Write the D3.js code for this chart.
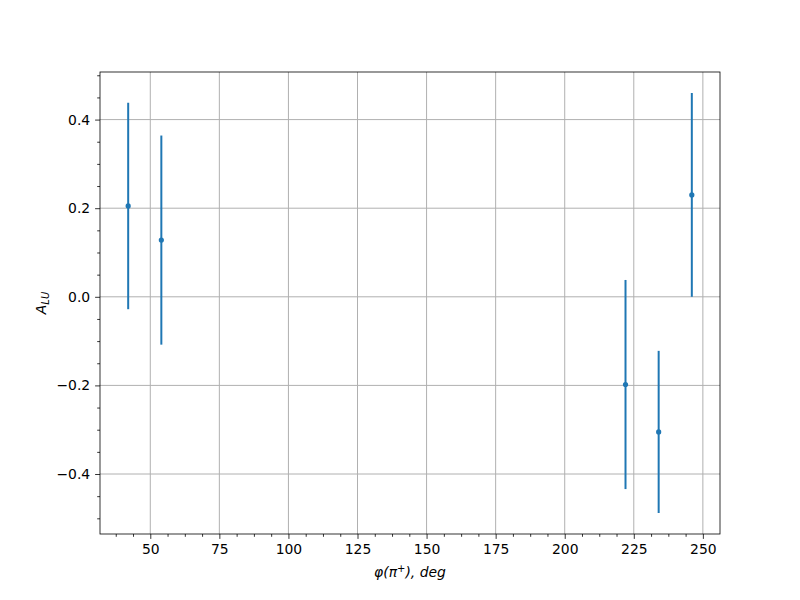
<!DOCTYPE html>
<html><head><meta charset="utf-8">
<script src="https://cdn.jsdelivr.net/npm/d3@7"></script>
<style>body{margin:0;background:#fff}svg{display:block}</style>
</head><body>
<svg id="c" width="800" height="600"></svg>
<script>
const phi = [42, 54, 222, 234, 246];
const alu = [0.205, 0.128, -0.198, -0.305, 0.230];
const err = [0.233, 0.236, 0.236, 0.183, 0.230];
const xTicks = [50, 75, 100, 125, 150, 175, 200, 225, 250];
const yTicks = [-0.4, -0.2, 0.0, 0.2, 0.4];

const svg = d3.select("#c");
const L = 100, R = 720, T = 72, B = 534;
const lo = d3.min(alu.map((v,i)=>v-err[i])), hi = d3.max(alu.map((v,i)=>v+err[i]));
const xr = d3.max(phi)-d3.min(phi), yr = hi-lo;
const x = d3.scaleLinear().domain([d3.min(phi)-0.05*xr, d3.max(phi)+0.05*xr]).range([L, R]);
const y = d3.scaleLinear().domain([lo-0.05*yr, hi+0.05*yr]).range([B, T]);
const font = "DejaVu Sans";
const col = "#1f77b4";

// grid
const g = svg.append("g");
xTicks.forEach(t => g.append("line").attr("x1", x(t)).attr("x2", x(t)).attr("y1", T).attr("y2", B)
  .attr("stroke", "#b0b0b0").attr("stroke-width", 1));
yTicks.forEach(t => g.append("line").attr("x1", L).attr("x2", R).attr("y1", y(t)).attr("y2", y(t))
  .attr("stroke", "#b0b0b0").attr("stroke-width", 1));

// minor ticks
const xMinor = d3.range(31.25, 256, 6.25).filter(v => v >= x.domain()[0] && v <= x.domain()[1] && Math.abs(v/25 - Math.round(v/25)) > 1e-6);
const yMinor = d3.range(-0.5, 0.51, 0.05).filter(v => v >= y.domain()[0] && v <= y.domain()[1] && Math.abs(v/0.2 - Math.round(v/0.2)) > 1e-6);

// axes
const xAxis = d3.axisBottom(x).tickValues(xTicks).tickSize(4.9).tickPadding(4.9).tickFormat(d3.format("d"));
const yAxis = d3.axisLeft(y).tickValues(yTicks).tickSize(4.9).tickPadding(4.9).tickFormat(d3.format(".1f"));
const gx = svg.append("g").attr("transform", `translate(0,${B})`).call(xAxis);
const gy = svg.append("g").attr("transform", `translate(${L},0)`).call(yAxis);
const xm = svg.append("g").attr("transform", `translate(0,${B})`).call(d3.axisBottom(x).tickValues(xMinor).tickSize(2.8).tickFormat(""));
const ym = svg.append("g").attr("transform", `translate(${L},0)`).call(d3.axisLeft(y).tickValues(yMinor).tickSize(2.8).tickFormat(""));
[gx, gy, xm, ym].forEach(a => {
  a.select(".domain").remove();
  a.selectAll("line").attr("stroke", "#000").attr("stroke-width", 0.8);
  a.selectAll("text").attr("font-family", font).attr("font-size", "13.9px").attr("fill", "#000");
});
gy.selectAll("text").text(d => d3.format(".1f")(d).replace("-", "\u2212"));

// error bars
const pts = phi.map((p,i) => ({p, v: alu[i], e: err[i]}));
svg.append("g").selectAll("line").data(pts).join("line")
  .attr("x1", d => x(d.p)).attr("x2", d => x(d.p))
  .attr("y1", d => y(d.v - d.e)).attr("y2", d => y(d.v + d.e))
  .attr("stroke", col).attr("stroke-width", 2);
svg.append("g").selectAll("circle").data(pts).join("circle")
  .attr("cx", d => x(d.p)).attr("cy", d => y(d.v)).attr("r", 2.6).attr("fill", col);

// frame
svg.append("rect").attr("x", L).attr("y", T).attr("width", R-L).attr("height", B-T)
  .attr("fill", "none").attr("stroke", "#000").attr("stroke-width", 0.8);

// labels
const xl = svg.append("text").attr("x", (L+R)/2).attr("y", 577).attr("text-anchor", "middle")
  .attr("font-family", font).attr("font-size", "13.9px").attr("font-style", "italic");
xl.append("tspan").text("\u03c6(\u03c0");
xl.append("tspan").attr("dy", -5).attr("font-size", "10px").attr("font-style", "normal").text("+");
xl.append("tspan").attr("dy", 5).text("), deg");

const yl = svg.append("text").attr("transform", `translate(46,${(T+B)/2}) rotate(-90)`).attr("text-anchor", "middle")
  .attr("font-family", font).attr("font-size", "13.9px").attr("font-style", "italic");
yl.append("tspan").text("A");
yl.append("tspan").attr("dy", 3).attr("font-size", "10px").text("LU");
</script>
</body></html>
